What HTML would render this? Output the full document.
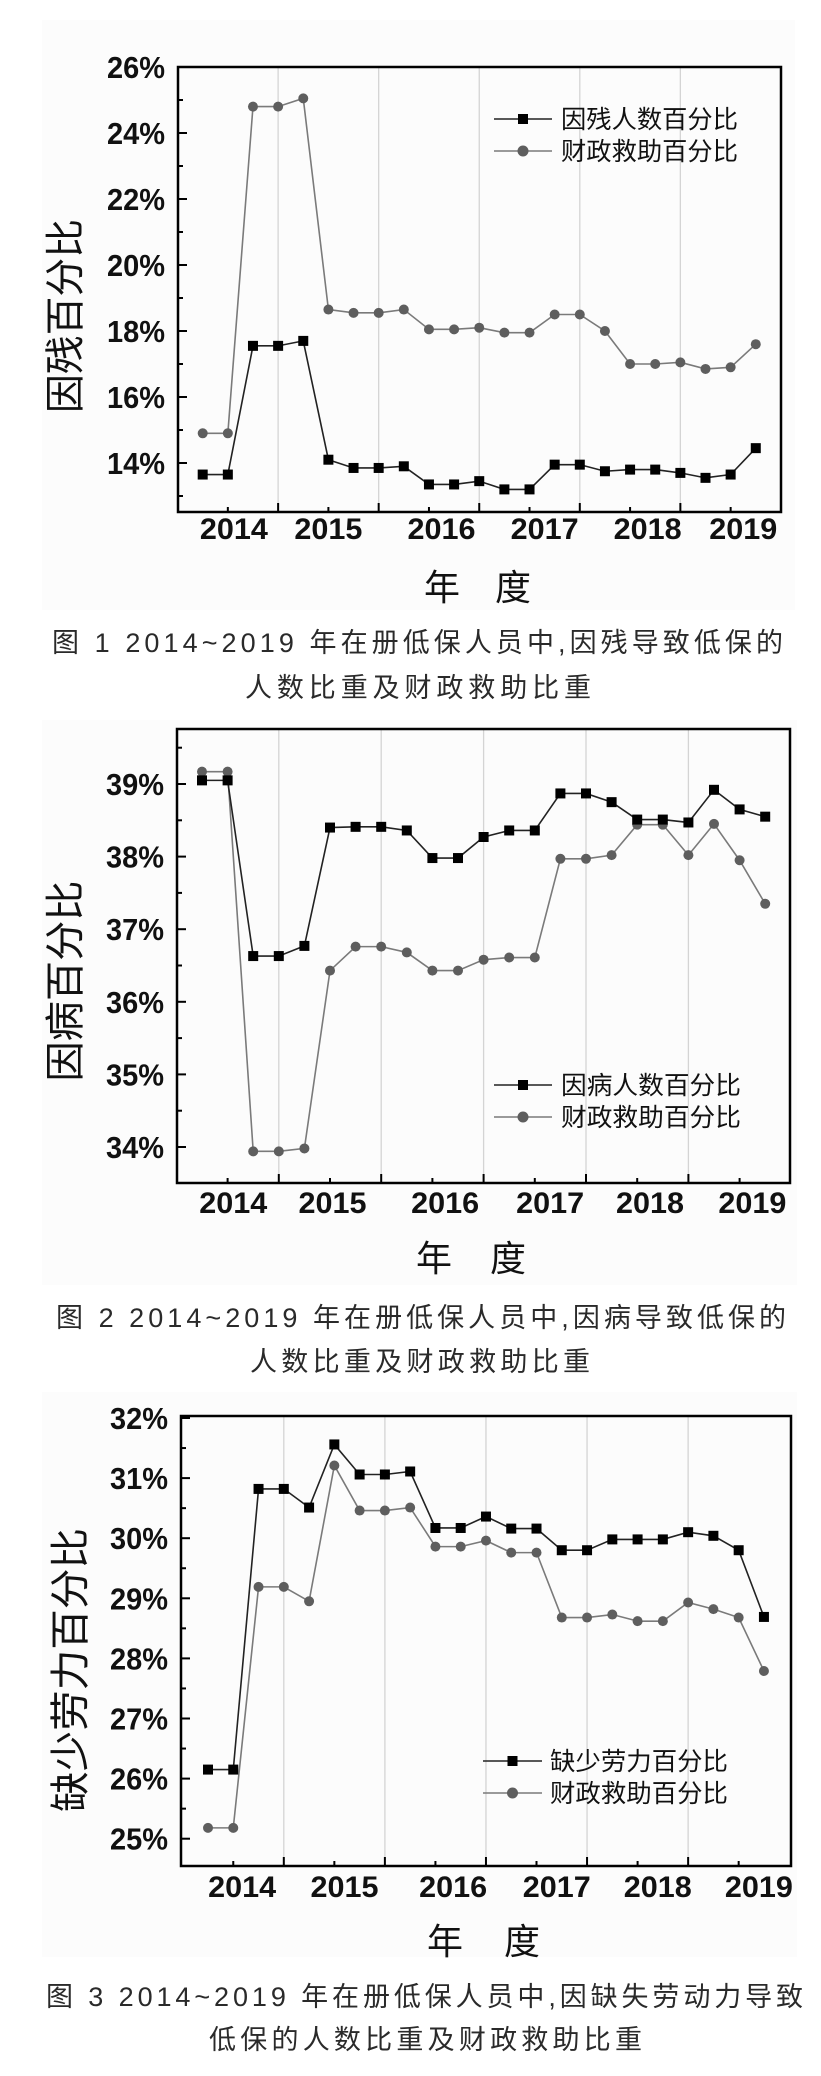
<!DOCTYPE html>
<html><head><meta charset="utf-8"><style>
html,body{margin:0;padding:0;background:#fff;}
svg{display:block;}
text{font-family:"Liberation Sans","Noto Sans CJK SC",sans-serif;}
</style></head><body>
<svg id="page" width="821" height="2076" viewBox="0 0 821 2076" xmlns="http://www.w3.org/2000/svg">
<rect x="0" y="0" width="821" height="2076" fill="#fff"/>
<rect x="42" y="20" width="753" height="590" fill="#fcfcfc"/>
<rect x="42" y="720" width="755" height="565" fill="#fcfcfc"/>
<rect x="42" y="1392" width="755" height="565" fill="#fcfcfc"/>
<g id="g1"></g>
<g id="g2"></g>
<g id="g3"></g>
<g fill="#2a2a2a" font-size="27">
<text x="52" y="652" textLength="731" lengthAdjust="spacing">图 1  2014~2019 年在册低保人员中,因残导致低保的</text>
<text x="245" y="697" textLength="346" lengthAdjust="spacing">人数比重及财政救助比重</text>
<text x="56" y="1327" textLength="730" lengthAdjust="spacing">图 2  2014~2019 年在册低保人员中,因病导致低保的</text>
<text x="250" y="1371" textLength="340" lengthAdjust="spacing">人数比重及财政救助比重</text>
<text x="46" y="2006" textLength="757" lengthAdjust="spacing">图 3  2014~2019 年在册低保人员中,因缺失劳动力导致</text>
<text x="209" y="2049" textLength="433" lengthAdjust="spacing">低保的人数比重及财政救助比重</text>
</g>
</svg>
<script>
// ---- Chart 1 data ----
const yearLabels = ["2014","2015","2016","2017","2018","2019"];
const c1People = [13.65,13.65,17.55,17.55,17.7,14.1,13.85,13.85,13.9,13.35,13.35,13.45,13.2,13.2,13.95,13.95,13.75,13.8,13.8,13.7,13.55,13.65,14.45];
const c1Aid = [14.9,14.9,24.8,24.8,25.05,18.65,18.55,18.55,18.65,18.05,18.05,18.1,17.95,17.95,18.5,18.5,18.0,17.0,17.0,17.05,16.85,16.9,17.6];
const c1Ticks = [14,16,18,20,22,24,26];
const c1Legend = ["因残人数百分比","财政救助百分比"];
// ---- Chart 2 data ----
const c2People = [39.05,39.05,36.63,36.63,36.77,38.4,38.41,38.41,38.36,37.98,37.98,38.27,38.36,38.36,38.87,38.87,38.75,38.51,38.51,38.47,38.92,38.65,38.55];
const c2Aid = [39.17,39.17,33.94,33.94,33.98,36.43,36.76,36.76,36.68,36.43,36.43,36.58,36.61,36.61,37.97,37.97,38.02,38.44,38.44,38.02,38.45,37.95,37.35];
const c2Ticks = [34,35,36,37,38,39];
const c2Legend = ["因病人数百分比","财政救助百分比"];
// ---- Chart 3 data ----
const c3People = [26.15,26.15,30.82,30.82,30.51,31.56,31.06,31.06,31.11,30.17,30.17,30.36,30.16,30.16,29.8,29.8,29.98,29.98,29.98,30.1,30.04,29.8,28.69];
const c3Aid = [25.18,25.18,29.19,29.19,28.95,31.21,30.46,30.46,30.51,29.86,29.86,29.96,29.76,29.76,28.68,28.68,28.73,28.62,28.62,28.93,28.82,28.68,27.79];
const c3Ticks = [25,26,27,28,29,30,31,32];
const c3Legend = ["缺少劳力百分比","财政救助百分比"];

const NS = "http://www.w3.org/2000/svg";
function mk(parent, tag, attrs){
  const e = document.createElementNS(NS, tag);
  for (const k in attrs) e.setAttribute(k, attrs[k]);
  parent.appendChild(e);
  return e;
}

function drawChart(g, cfg, people, aid, ticks, legend){
  const L=cfg.left,R=cfg.right,T=cfg.top,B=cfg.bottom;
  const x = i => cfg.x0 + cfg.dx*i;
  const y = v => cfg.yRef + (cfg.vRef - v)*cfg.pxPer;
  for (let i=3;i<people.length;i+=4){
    const gl = mk(g,'line',{x1:x(i),x2:x(i),y1:T,y2:B,stroke:'#d4d4d4','stroke-width':1.3});
    
    
  }
  const box = mk(g,'rect',{x:L,y:T,width:R-L,height:B-T,fill:'none',stroke:'#000','stroke-width':2.5});
  
  
  for (let i=1;i<people.length;i+=2){
    const major = (i%4===3);
    const t = mk(g,'line',{x1:x(i),x2:x(i),y1:B,y2:B-(major?9:5),stroke:'#000','stroke-width':2});
    
    
  }
  const vTop = cfg.vRef + (cfg.yRef-T)/cfg.pxPer, vBot = cfg.vRef - (B-cfg.yRef)/cfg.pxPer;
  for (let v=Math.ceil(vBot/cfg.minor)*cfg.minor; v<=vTop+1e-6; v+=cfg.minor){
    const isMajor = ticks.some(t=>Math.abs(t-v)<1e-6);
    const t = mk(g,'line',{x1:L,x2:L+(isMajor?9:5),y1:y(v),y2:y(v),stroke:'#000','stroke-width':2});
    
    
  }
  ticks.forEach(v=>{
    const tl = mk(g,'text',{x:L-13,y:y(v)+11,'text-anchor':'end','font-size':31,'font-weight':'bold',textLength:58,lengthAdjust:'spacingAndGlyphs',fill:'#111'});
    tl.textContent = v+'%';
    
    
  });
  yearLabels.forEach((lab,k)=>{
    const tl = mk(g,'text',{x:x(cfg.labelIdx[k]),y:cfg.labelBase,'text-anchor':'middle','font-size':30,'font-weight':'bold',textLength:68,lengthAdjust:'spacingAndGlyphs',fill:'#111'});
    tl.textContent = lab;
    
    
  });
  const series = [[aid,'#7a7a7a','#5e5e5e','circle','aid'],[people,'#222','#000','square','people']];
  series.forEach(s=>{
    const pts = s[0].map((v,i)=>x(i)+','+y(v)).join(' ');
    const pl = mk(g,'polyline',{points:pts,fill:'none',stroke:s[1],'stroke-width':1.6});
    
    
    s[0].forEach((v,i)=>{
      let m;
      if (s[3]==='circle') m = mk(g,'circle',{cx:x(i),cy:y(v),r:5,fill:s[2]});
      else m = mk(g,'rect',{x:x(i)-5,y:y(v)-5,width:10,height:10,fill:s[2]});
      
      
    });
  });
  const lg = cfg.legend;
  [[lg.y1,'#222','#000','square'],[lg.y2,'#7a7a7a','#5e5e5e','circle']].forEach((r,k)=>{
    const ln = mk(g,'line',{x1:lg.x1,x2:lg.x2,y1:r[0],y2:r[0],stroke:r[1],'stroke-width':1.6});
    
    
    const mx=(lg.x1+lg.x2)/2;
    let m;
    if (r[3]==='circle') m = mk(g,'circle',{cx:mx,cy:r[0],r:5.5,fill:r[2]});
    else m = mk(g,'rect',{x:mx-5,y:r[0]-5,width:10,height:10,fill:r[2]});
    
    
    const t = mk(g,'text',{x:lg.tx,y:r[0]+9,'font-size':25,textLength:lg.tw,lengthAdjust:'spacingAndGlyphs',fill:'#111'});
    t.textContent = legend[k];
    
    
  });
  const yt = mk(g,'text',{x:0,y:0,'text-anchor':'middle','font-size':40,textLength:cfg.ytLen,lengthAdjust:'spacingAndGlyphs',fill:'#111',transform:'translate('+(cfg.ytX+14)+','+cfg.ytY+') rotate(-90)'});
  yt.textContent = cfg.yTitle;
  
  
  const xt = mk(g,'text',{x:cfg.xtX,y:cfg.xtY,'font-size':36,textLength:cfg.xtLen,lengthAdjust:'spacing',fill:'#111'});
  xt.textContent = '年度';
  
  
}

drawChart(document.getElementById('g1'),{
  left:178,right:781,top:67,bottom:512,x0:202.7,dx:25.14,yRef:67,vRef:26,pxPer:33,minor:1,
  labelIdx:[1.24,5.0,9.5,13.6,17.7,21.5],labelBase:539,
  legend:{x1:494,x2:552,y1:119,y2:151,tx:561,tw:177},
  yTitle:'因残百分比',ytX:65,ytY:316,ytLen:194,xtX:424,xtY:600,xtLen:107
},c1People,c1Aid,c1Ticks,c1Legend);

drawChart(document.getElementById('g2'),{
  left:177,right:790,top:729,bottom:1183,x0:202,dx:25.6,yRef:784,vRef:39,pxPer:72.6,minor:0.5,
  labelIdx:[1.22,5.1,9.5,13.6,17.5,21.5],labelBase:1213,
  legend:{x1:494,x2:552,y1:1085,y2:1117,tx:561,tw:180},
  yTitle:'因病百分比',ytX:65,ytY:981,ytLen:201,xtX:416,xtY:1271,xtLen:110
},c2People,c2Aid,c2Ticks,c2Legend);

drawChart(document.getElementById('g3'),{
  left:181,right:791,top:1416,bottom:1866,x0:208,dx:25.27,yRef:1418,vRef:32,pxPer:60.1,minor:0.5,
  labelIdx:[1.35,5.4,9.7,13.8,17.8,21.8],labelBase:1897,
  legend:{x1:483,x2:542,y1:1761,y2:1793,tx:550,tw:178},
  yTitle:'缺少劳力百分比',ytX:70,ytY:1670,ytLen:284,xtX:427,xtY:1954,xtLen:113
},c3People,c3Aid,c3Ticks,c3Legend);
</script>
</body></html>
